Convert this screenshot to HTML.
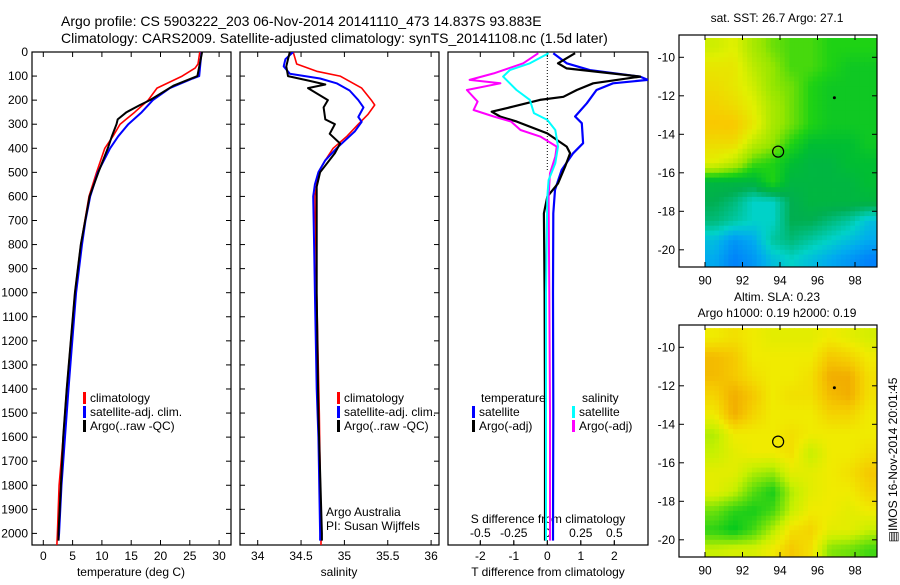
<!DOCTYPE html>
<html><head><meta charset="utf-8"><style>
body{margin:0;background:#fff}
svg{font-family:"Liberation Sans",sans-serif;font-size:12px}
</style></head><body>
<svg id="c" width="900" height="580" viewBox="0 0 900 580" xmlns="http://www.w3.org/2000/svg">
<defs>
<clipPath id="cp1"><rect x="32" y="52" width="200" height="493"/></clipPath>
<clipPath id="cp2"><rect x="240" y="52" width="200" height="493"/></clipPath>
<clipPath id="cp3"><rect x="448" y="52" width="200" height="493"/></clipPath>
<clipPath id="cm1"><rect x="679" y="35" width="198" height="232"/></clipPath>
<clipPath id="cm2"><rect x="679" y="325" width="198" height="232"/></clipPath>
</defs>
<text x="61" y="26" font-size="14">Argo profile: CS 5903222_203 06-Nov-2014 20141110_473 14.837S 93.883E</text>
<text x="61" y="43" font-size="14">Climatology: CARS2009. Satellite-adjusted climatology: synTS_20141108.nc (1.5d later)</text>
<g id="g"></g>
</svg>
<script>
// ---- Panel 1: temperature ----
const climTDepth=[0,50,67,100,150,200,250,300,350,400,500,600,700,800,1000,1400,1600,1800,2000,2054];
const climTVal=[26.7,26.4,25.9,23.7,19.4,17.9,15.6,13.1,11.9,10.5,9.1,7.8,7.1,6.4,5.4,4.0,3.4,2.7,2.4,2.3];
const satTDepth=[0,100,110,150,200,250,300,350,400,500,600,700,800,1000,1400,1600,1800,2000,2030];
const satTVal=[27.0,26.6,25.5,21.6,18.7,16.8,14.5,12.8,11.4,9.3,8.0,7.2,6.6,5.6,4.3,3.7,3.1,2.7,2.6];
const argoTDepth=[0,100,140,200,220,250,280,300,350,400,500,600,800,1000,1400,1600,1800,2000,2030];
const argoTVal=[27.1,26.3,22.2,18.2,16.5,14.2,12.7,12.5,11.7,11.0,9.4,7.9,6.4,5.4,4.0,3.4,3.0,2.6,2.6];
// ---- Panel 2: salinity ----
const climSDepth=[0,50,80,100,150,200,220,260,300,350,400,450,500,600,800,1000,1500,2000,2054];
const climSVal=[34.41,34.45,34.68,34.95,35.20,35.31,35.35,35.27,35.16,35.03,34.87,34.78,34.70,34.66,34.67,34.68,34.71,34.73,34.73];
const satSDepth=[0,30,60,90,110,130,160,200,230,270,290,330,400,450,500,550,600,800,1000,1400,1600,2000,2030];
const satSVal=[34.41,34.32,34.30,34.37,34.72,34.91,35.06,35.16,35.22,35.16,35.20,35.12,34.91,34.78,34.70,34.66,34.64,34.65,34.66,34.68,34.70,34.72,34.72];
const argoSDepth=[0,30,60,100,120,135,150,200,230,280,300,340,380,420,500,560,800,1000,1500,2000,2030];
const argoSVal=[34.37,34.35,34.33,34.35,34.60,34.78,34.58,34.81,34.76,34.78,34.89,34.83,34.95,34.89,34.72,34.68,34.68,34.68,34.70,34.74,34.74];
// ---- Panel 3: differences ----
const satTdDepth=[5,47,75,102,116,130,158,213,268,296,379,421,490,573,670,1000,1500,2000,2030];
const satTdVal=[0.18,0.58,1.27,2.77,3.0,1.96,1.47,1.18,0.83,1.03,1.07,0.77,0.43,0.23,0.18,0.17,0.18,0.17,0.17];
const argoTdDepth=[5,47,68,102,130,158,186,199,227,248,268,289,338,393,421,476,546,601,670,1000,1500,2000,2030];
const argoTdVal=[0.83,0.32,0.58,2.77,1.37,0.88,0.48,-0.22,-1.02,-1.66,-1.41,-0.91,0,0.58,0.68,0.53,0.32,0,-0.1,-0.08,-0.07,-0.07,-0.07];
const argoSdDepth=[5,47,89,116,130,158,206,241,268,289,324,352,393,435,504,601,1000,1500,2000,2030];
const argoSdVal=[-0.067,-0.18,-0.40,-0.58,-0.35,-0.60,-0.52,-0.55,-0.40,-0.27,-0.20,-0.05,0.07,0.06,0.02,0.01,0.015,0.02,0.02,0.02];
const satSdDepth=[5,47,75,102,158,199,254,282,324,393,462,532,601,1000,1500,2000,2030];
const satSdVal=[0.01,-0.13,-0.28,-0.33,-0.23,-0.13,-0.10,0.0,0.06,0.08,0.06,0.01,0,-0.01,-0.01,-0.01,-0.01];
// ---- Maps ----
const mapLats=[9.5,10.5,11.5,12.5,13.5,14.5,15.5,16.5,17.5,18.5,19.5,20.5];
const sstGrid=[
[27.8,27.9,27.6,27.4,27.3,27.3,27.2,27.2,27.2],
[28.0,28.0,27.7,27.5,27.3,27.3,27.2,27.1,27.1],
[28.1,28.0,27.8,27.5,27.4,27.2,27.1,27.1,27.1],
[28.2,28.1,27.9,27.6,27.4,27.2,27.1,27.1,27.1],
[28.3,28.3,28.0,27.6,27.4,27.2,27.1,27.1,27.1],
[28.1,28.1,27.7,27.5,27.2,27.0,27.0,27.0,27.1],
[27.9,27.7,27.3,27.2,27.0,26.9,26.9,27.0,27.0],
[26.9,26.9,26.9,27.2,26.9,26.9,26.9,26.9,27.0],
[26.8,26.7,26.5,26.5,26.8,26.9,26.9,26.9,26.9],
[26.7,26.6,26.5,26.5,26.8,26.8,26.7,26.6,26.4],
[26.4,26.2,26.3,26.6,26.7,26.6,26.5,26.4,26.3],
[26.3,26.1,26.2,26.4,26.5,26.4,26.3,26.2,26.1]];
const slaGrid=[
[.22,.23,.22,.21,.21,.21,.22,.21,.20],
[.26,.25,.22,.22,.22,.22,.25,.24,.22],
[.26,.25,.23,.22,.22,.23,.27,.27,.23],
[.24,.27,.25,.22,.23,.23,.26,.27,.23],
[.22,.27,.24,.22,.22,.22,.24,.24,.22],
[.18,.22,.22,.22,.23,.22,.22,.22,.22],
[.19,.21,.22,.22,.23,.19,.22,.22,.23],
[.21,.21,.18,.17,.21,.21,.22,.23,.25],
[.21,.19,.14,.11,.18,.21,.22,.22,.24],
[.15,.12,.11,.13,.19,.22,.22,.21,.22],
[.12,.10,.13,.18,.23,.24,.21,.21,.19],
[.19,.20,.20,.22,.25,.23,.16,.15,.13]];
const depthTicks=[0,100,200,300,400,500,600,700,800,900,1000,1100,1200,1300,1400,1500,1600,1700,1800,1900,2000];
const tTicks=[0,5,10,15,20,25,30];
const sTicks=[34,34.5,35,35.5,36];
const tdTicks=[-2,-1,0,1,2];
const sdTicks=[-0.5,-0.25,0,0.25,0.5];
const sdTickLabels=['-0.5','-0.25','0','0.25','0.5'];
const lonTicks=[90,92,94,96,98];
const latTicks=[10,12,14,16,18,20];
const argoPos=[93.9,14.9];
const otherFloat=[96.9,12.1];

const NS='http://www.w3.org/2000/svg';
const G=document.getElementById('g');
function el(tag,attrs,parent,txt){const e=document.createElementNS(NS,tag);for(const k in attrs)e.setAttribute(k,attrs[k]);if(txt!==undefined)e.textContent=txt;(parent||G).appendChild(e);return e;}
const yD=d=>52+d*0.2407;
const x1=t=>43.3+t*5.86;
const x2=s=>257.7+(s-34)*86.7;
const x3=t=>547.3+t*33.5;
const x3s=s=>547.3+s*134;

function line(xs,ds,vals,color,w,clip,name){
  const p=vals.map((v,i)=>xs(v).toFixed(1)+','+yD(ds[i]).toFixed(1)).join(' ');
  const e=el('polyline',{points:p,fill:'none',stroke:color,'stroke-width':w,'clip-path':'url(#'+clip+')','stroke-linejoin':'round'});
  
  
}
function panelFrame(x0,name){
  const r=el('rect',{x:x0,y:52,width:199,height:493,fill:'none',stroke:'#000','stroke-width':1.2});
  
  
  depthTicks.forEach(d=>{el('line',{x1:x0,x2:x0+5,y1:yD(d),y2:yD(d),stroke:'#000'});el('line',{x1:x0+199,x2:x0+194,y1:yD(d),y2:yD(d),stroke:'#000'});});
}
depthTicks.forEach(d=>{const t=el('text',{x:28,y:yD(d)+4,'text-anchor':'end'},G,String(d));

});
panelFrame(32,'temperature-panel');panelFrame(240,'salinity-panel');
const r3=el('rect',{x:448,y:52,width:200,height:493,fill:'none',stroke:'#000','stroke-width':1.2});


function xticks(vals,fx,labels,ylab,name){vals.forEach((v,i)=>{const x=fx(v);el('line',{x1:x,x2:x,y1:545,y2:540,stroke:'#000'});el('line',{x1:x,x2:x,y1:52,y2:57,stroke:'#000'});
const t=el('text',{x:x,y:ylab,'text-anchor':'middle'},G,labels?labels[i]:String(v));

});}
xticks(tTicks,x1,null,560,'temperature-tick-label');
xticks(sTicks,x2,null,560,'salinity-tick-label');
xticks(tdTicks,x3,null,560,'t-diff-tick-label');
sdTicks.forEach((v,i)=>{const x=x3s(v);el('line',{x1:x,x2:x,y1:545,y2:541,stroke:'#000'});
const t=el('text',{x:x,y:537,'text-anchor':'middle'},G,sdTickLabels[i]);

});
[['temperature (deg C)',131,576,'temperature-axis-title'],['salinity',339,576,'salinity-axis-title'],['T difference from climatology',548,576,'t-diff-axis-title'],['S difference from climatology',548,523,'s-diff-axis-title']].forEach(a=>{const t=el('text',{x:a[1],y:a[2],'text-anchor':'middle'},G,a[0]);

});
el('line',{x1:547.3,x2:547.3,y1:52,y2:172,stroke:'#000','stroke-dasharray':'1,2'});

line(x1,climTDepth,climTVal,'#f00',1.6,'cp1','temperature-climatology-line');
line(x1,satTDepth,satTVal,'#00f',2,'cp1','temperature-satellite-line');
line(x1,argoTDepth,argoTVal,'#000',2,'cp1','temperature-argo-line');
line(x2,climSDepth,climSVal,'#f00',1.6,'cp2','salinity-climatology-line');
line(x2,satSDepth,satSVal,'#00f',2,'cp2','salinity-satellite-line');
line(x2,argoSDepth,argoSVal,'#000',2,'cp2','salinity-argo-line');
line(x3,satTdDepth,satTdVal,'#00f',2.2,'cp3','t-diff-satellite-line');
line(x3,argoTdDepth,argoTdVal,'#000',2.2,'cp3','t-diff-argo-line');
line(x3s,argoSdDepth,argoSdVal,'#f0f',2,'cp3','s-diff-argo-line');
line(x3s,satSdDepth,satSdVal,'#0ff',2,'cp3','s-diff-satellite-line');

function legend(x,y,items,name){items.forEach((it,i)=>{const yy=y+i*14;
const b=el('rect',{x:x,y:yy-10,width:3,height:12,fill:it[1]});


const t=el('text',{x:x+7,y:yy},G,it[0]);

});}
legend(83,402,[['climatology','#f00'],['satellite-adj. clim.','#00f'],['Argo(..raw -QC)','#000']],'temperature-legend');
legend(337,402,[['climatology','#f00'],['satellite-adj. clim.','#00f'],['Argo(..raw -QC)','#000']],'salinity-legend');
legend(472,416,[['satellite','#00f'],['Argo(-adj)','#000']],'t-diff-legend');
legend(572,416,[['satellite','#0ff'],['Argo(-adj)','#f0f']],'s-diff-legend');
let t=el('text',{x:481,y:402},G,'temperature');
t=el('text',{x:582,y:402},G,'salinity');
t=el('text',{x:326,y:516},G,'Argo Australia');
t=el('text',{x:326,y:530},G,'PI: Susan Wijffels');

function interp(stops,v){if(v<=stops[0][0])return stops[0][1];for(let i=1;i<stops.length;i++){if(v<=stops[i][0]){const a=stops[i-1],b=stops[i],f=(v-a[0])/(b[0]-a[0]);return 'rgb('+a[1].map((c,j)=>Math.round(c+(b[1][j]-c)*f)).join(',')+')';}}return stops[stops.length-1][1];}
function col(stops,v){const r=interp(stops,v);return typeof r==='string'?r:'rgb('+r.join(',')+')';}
const sstStops=[[26.0,[0,110,255]],[26.3,[0,170,240]],[26.5,[0,210,200]],[26.8,[0,175,80]],[27.0,[0,190,50]],[27.2,[30,210,20]],[27.5,[150,230,0]],[27.9,[225,240,0]],[28.3,[250,200,0]]];
const slaStops=[[0.10,[0,200,30]],[0.15,[110,225,10]],[0.19,[200,240,0]],[0.22,[240,235,0]],[0.25,[245,200,0]],[0.28,[240,160,0]]];
function drawMap(grid,stops,y0,clip,name,title,titleY){
  const lonX=l=>705+(l-90)*18.75, latY=l=>y0+(l-10)*19.25;
  const ncol=grid[0].length,cw=9.25/ncol;
  const g=el('g',{'clip-path':'url(#'+clip+')'});
  
  
  const step=0.25;
  for(let la=9;la<21;la+=step){for(let lo=90;lo<99.25;lo+=step){
    const cy=la+step/2,cx=lo+step/2;
    let fi=Math.min(Math.max(cy-mapLats[0],0),mapLats.length-1.0001);
    let fj=Math.min(Math.max((cx-90)/cw-0.5,0),ncol-1.0001);
    const i=Math.floor(fi),j=Math.floor(fj),di=fi-i,dj=fj-j;
    const v=grid[i][j]*(1-di)*(1-dj)+grid[i+1][j]*di*(1-dj)+grid[i][j+1]*(1-di)*dj+grid[i+1][j+1]*di*dj;
    el('rect',{x:lonX(lo).toFixed(1),y:latY(la).toFixed(1),width:(step*18.75+0.6).toFixed(1),height:(step*19.25+0.6).toFixed(1),fill:col(stops,v)},g);
  }}
  const fr=el('rect',{x:679,y:y0-22.3,width:198,height:232,fill:'none',stroke:'#000','stroke-width':1.2});
  
  
  lonTicks.forEach(l=>{const x=lonX(l);el('line',{x1:x,x2:x,y1:y0-22.3,y2:y0-17.3,stroke:'#000'});el('line',{x1:x,x2:x,y1:y0+209.7,y2:y0+204.7,stroke:'#000'});
    const tt=el('text',{x:x,y:y0+227,'text-anchor':'middle'},G,String(l));
    
    });
  latTicks.forEach(l=>{const y=latY(l);el('line',{x1:679,x2:684,y1:y,y2:y,stroke:'#000'});el('line',{x1:877,x2:872,y1:y,y2:y,stroke:'#000'});
    const tt=el('text',{x:675,y:y+4,'text-anchor':'end'},G,'-'+l);
    
    });
  const c=el('circle',{cx:lonX(argoPos[0]),cy:latY(argoPos[1]),r:5.5,fill:'none',stroke:'#000','stroke-width':1.2});
  
  
  const d=el('circle',{cx:lonX(otherFloat[0]),cy:latY(otherFloat[1]),r:1.5,fill:'#000'});
  
  
  title.forEach((s,i)=>{const tt=el('text',{x:777,y:titleY+i*16,'text-anchor':'middle'},G,s);
    
    });
}
drawMap(sstGrid,sstStops,57.3,'cm1','sst-map',['sat. SST: 26.7 Argo: 27.1'],22);
drawMap(slaGrid,slaStops,347.3,'cm2','sla-map',['Altim. SLA: 0.23','Argo h1000: 0.19 h2000: 0.19'],301);
t=el('text',{x:0,y:0,transform:'translate(897,460) rotate(-90)','text-anchor':'middle'},G,'\u25A4IMOS 16-Nov-2014 20:01:45');


</script>
</body></html>
